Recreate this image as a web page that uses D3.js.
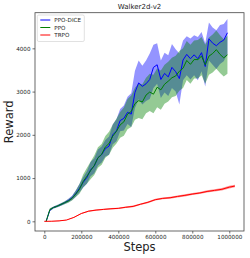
<!DOCTYPE html>
<html>
<head>
<meta charset="utf-8">
<script src="https://cdn.jsdelivr.net/npm/d3@7"></script>
<style>
	body { margin: 0; background: #fff; }
	text { font-family: "DejaVu Sans", sans-serif; fill: #222; }
</style>
</head>
<body>
<div id="chart-container"></div>
<script>
// --- data ---
const seriesNames	= ['PPO-DICE', 'PPO', 'TRPO'];
const seriesColors	= ['#0000ff', '#008000', '#ff0000'];

const steps = [10000, 30000, 50000, 70000, 90000, 110000, 130000, 150000, 170000, 190000,
	210000, 230000, 250000, 270000, 290000, 310000, 330000, 350000, 370000, 390000,
	410000, 430000, 450000, 470000, 490000, 510000, 530000, 550000, 570000, 590000,
	610000, 630000, 650000, 670000, 690000, 710000, 730000, 750000, 770000, 790000,
	810000, 830000, 850000, 870000, 890000, 910000, 930000, 950000, 970000, 990000];

const diceMean = [0, 260, 320, 350, 390, 430, 480, 540, 640, 760,
	900, 1010, 1190, 1280, 1470, 1540, 1680, 1740, 2000, 2090,
	2330, 2380, 2520, 2480, 2980, 3200, 3120, 3180, 3280, 3560,
	3620, 3280, 3420, 3340, 3560, 3460, 3300, 3730, 3860, 3760,
	3850, 3760, 3900, 3580, 4220, 4120, 4060, 4140, 4190, 4360];
const diceLow = [-10, 230, 295, 325, 360, 400, 440, 490, 570, 670,
	780, 870, 1040, 1110, 1290, 1360, 1500, 1540, 1780, 1850,
	2080, 2100, 2250, 2180, 2620, 2820, 2700, 2780, 2830, 3080,
	3180, 2850, 2980, 2900, 3080, 3000, 2700, 3260, 3380, 3280,
	3380, 3260, 3470, 3120, 3720, 3620, 3520, 3640, 3700, 3870];
const diceHigh = [10, 290, 345, 375, 420, 460, 520, 590, 710, 860,
	1020, 1160, 1370, 1460, 1660, 1730, 1880, 1960, 2240, 2360,
	2600, 2680, 2880, 2960, 3480, 3720, 3600, 3720, 3880, 4080,
	4120, 3720, 3900, 3840, 4100, 3980, 3880, 4180, 4280, 4230,
	4300, 4260, 4380, 4120, 4600, 4480, 4420, 4540, 4560, 4680];

const ppoMean = [0, 270, 320, 350, 390, 430, 470, 530, 630, 740,
	920, 1040, 1170, 1290, 1470, 1550, 1720, 1800, 1970, 2080,
	2230, 2300, 2480, 2540, 2720, 2790, 2760, 2920, 2990, 2940,
	3100, 3040, 3170, 3240, 3320, 3360, 3470, 3540, 3720, 3630,
	3740, 3740, 3820, 3620, 3820, 3880, 3970, 3860, 3780, 3850];
const ppoLow = [-10, 240, 295, 325, 360, 395, 430, 480, 560, 640,
	780, 870, 970, 1070, 1240, 1310, 1470, 1540, 1700, 1800,
	1930, 1980, 2130, 2180, 2350, 2390, 2360, 2500, 2550, 2500,
	2640, 2580, 2720, 2770, 2870, 2900, 3020, 3080, 3270, 3180,
	3300, 3300, 3380, 3180, 3390, 3440, 3530, 3430, 3350, 3410];
const ppoHigh = [10, 300, 345, 375, 420, 465, 510, 580, 710, 860,
	1080, 1230, 1380, 1520, 1710, 1790, 1970, 2070, 2240, 2370,
	2530, 2630, 2830, 2910, 3090, 3190, 3170, 3320, 3410, 3390,
	3540, 3490, 3620, 3690, 3780, 3830, 3940, 4000, 4170, 4080,
	4180, 4190, 4260, 4080, 4250, 4320, 4410, 4300, 4210, 4290];

const trpoSteps = [0, 40000, 80000, 120000, 160000, 200000, 240000, 280000, 320000, 360000,
	400000, 440000, 480000, 520000, 560000, 600000, 640000, 680000, 720000, 760000,
	800000, 840000, 880000, 920000, 960000, 1000000, 1030000];
const trpoMean = [0, 2, 10, 30, 90, 180, 235, 260, 275, 290,
	300, 325, 345, 395, 440, 500, 530, 545, 575, 600,
	630, 655, 690, 715, 740, 790, 815];
const trpoSpread = [2, 4, 6, 8, 10, 12, 14, 14, 15, 15,
	16, 16, 18, 18, 20, 20, 22, 22, 22, 24,
	24, 25, 26, 26, 28, 30, 30];

const xTicks = [0, 200000, 400000, 600000, 800000, 1000000];
const yTicks = [0, 1000, 2000, 3000, 4000];

// --- layout ---
let canvasWidth		= 250;
let canvasHeight	= 258;
let margin			= { top: 12.7, right: 6, bottom: 27, left: 35 };
let width			= canvasWidth - margin.left - margin.right;
let height			= canvasHeight - margin.top - margin.bottom;

let x = d3.scaleLinear().domain([-50300, 1079500]).range([0, width]);
let y = d3.scaleLinear().domain([-224, 4824]).range([height, 0]);

let svg = d3.select('#chart-container').append('svg')
		.attr('width', canvasWidth)
		.attr('height', canvasHeight)
	.append('g')
		.attr('transform', 'translate(' + margin.left + ',' + margin.top + ')');

let series = [
	{ name: seriesNames[0], color: seriesColors[0], pts: steps.map((s, i) => ({ s: s, m: diceMean[i], lo: diceLow[i], hi: diceHigh[i] })) },
	{ name: seriesNames[1], color: seriesColors[1], pts: steps.map((s, i) => ({ s: s, m: ppoMean[i], lo: ppoLow[i], hi: ppoHigh[i] })) },
	{ name: seriesNames[2], color: seriesColors[2], pts: trpoSteps.map((s, i) => ({ s: s, m: trpoMean[i], lo: trpoMean[i] - trpoSpread[i], hi: trpoMean[i] + trpoSpread[i] })) }
];

let area = d3.area().x((o) => x(o.s)).y0((o) => y(o.lo)).y1((o) => y(o.hi));
let line = d3.line().x((o) => x(o.s)).y((o) => y(o.m));

svg.selectAll('.band')
		.data(series)
	.enter().append('path')
		.attr('class', 'band')
		.attr('d', (o) => area(o.pts))
		.attr('fill', (o) => o.color)
		.attr('fill-opacity', 0.42);

svg.selectAll('.curve')
		.data(series)
	.enter().append('path')
		.attr('class', 'curve')
		.attr('d', (o) => line(o.pts))
		.attr('fill', 'none')
		.attr('stroke', (o) => o.color)
		.attr('stroke-width', 1);

// axes
let xAxis = svg.append('g')
	.attr('transform', 'translate(0,' + height + ')')
	.call(d3.axisBottom(x).tickValues(xTicks).tickFormat(d3.format('d')).tickSize(2.5).tickPadding(2));
let yAxis = svg.append('g')
	.call(d3.axisLeft(y).tickValues(yTicks).tickFormat(d3.format('d')).tickSize(2.5).tickPadding(2));

[xAxis, yAxis].forEach((g) => {
	g.select('.domain').remove();
	g.selectAll('line').attr('stroke', '#333').attr('stroke-width', 0.7);
	g.selectAll('text').attr('font-size', 5.6).attr('font-family', '"DejaVu Sans", sans-serif').attr('fill', '#222');
});

// frame
svg.append('rect')
	.attr('width', width)
	.attr('height', height)
	.attr('fill', 'none')
	.attr('stroke', '#444')
	.attr('stroke-width', 0.8);

// labels
svg.append('text')
	.attr('x', width / 2)
	.attr('y', -3.5)
	.attr('text-anchor', 'middle')
	.attr('font-size', 7)
	.text('Walker2d-v2');

svg.append('text')
	.attr('x', width / 2)
	.attr('y', height + 20)
	.attr('text-anchor', 'middle')
	.attr('font-size', 11.5)
	.text('Steps');

svg.append('text')
	.attr('transform', 'translate(' + (-22) + ',' + (height / 2) + ') rotate(-90)')
	.attr('text-anchor', 'middle')
	.attr('font-size', 11.5)
	.text('Reward');

// legend
let legend = svg.append('g').attr('transform', 'translate(2.3,2.3)');
legend.append('rect')
	.attr('width', 47)
	.attr('height', 26.5)
	.attr('rx', 1.5)
	.attr('fill', '#fff')
	.attr('fill-opacity', 0.8)
	.attr('stroke', '#ccc')
	.attr('stroke-width', 0.6);

let entry = legend.selectAll('.entry')
		.data(series)
	.enter().append('g')
		.attr('class', 'entry')
		.attr('transform', (o, i) => 'translate(0,' + (5 + i * 7.5) + ')');
entry.append('line')
	.attr('x1', 3).attr('x2', 13)
	.attr('stroke', (o) => o.color)
	.attr('stroke-width', 1);
entry.append('text')
	.attr('x', 17)
	.attr('y', 2)
	.attr('font-size', 5.6)
	.text((o) => o.name);
</script>
</body>
</html>
